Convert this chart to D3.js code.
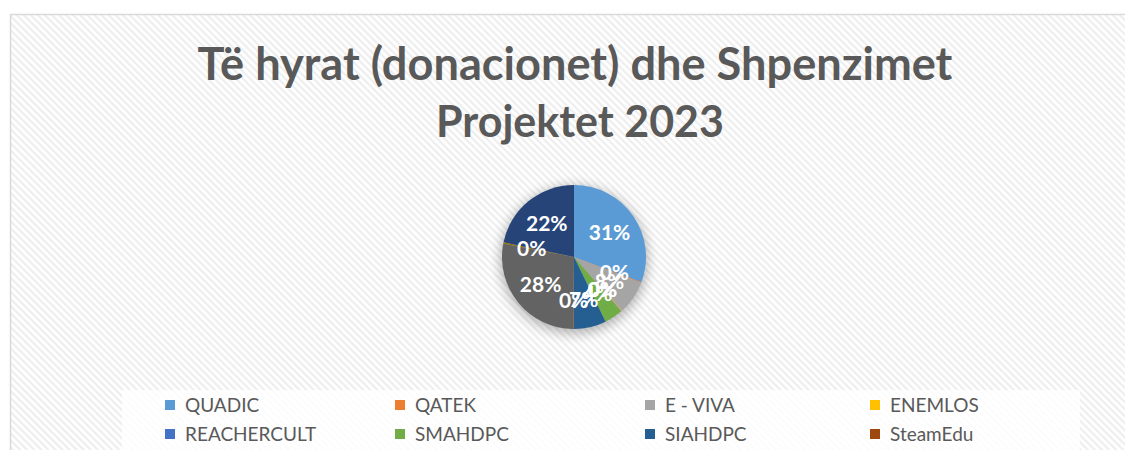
<!DOCTYPE html>
<html><head><meta charset="utf-8">
<script src="https://cdn.jsdelivr.net/npm/d3@7"></script>
<style>html,body{margin:0;padding:0;background:#fff;overflow:hidden}</style>
</head><body>
<svg id="chart" width="1125" height="450"></svg>
<script>
const categories = ["QUADIC","QATEK","E - VIVA","ENEMLOS","REACHERCULT","SMAHDPC","SIAHDPC","SteamEdu","Kategoria 9","Kategoria 10","Kategoria 11"];
const values = [31, 0.15, 7.6, 0.15, 0.15, 4.1, 7.3, 0.15, 28.1, 0.3, 21.9];
const labels = ["31%","0%","8%","0%","0%","4%","7%","0%","28%","0%","22%"];
const colors = ["#5B9BD5","#ED7D31","#A5A5A5","#FFC000","#4472C4","#70AD47","#255E91","#9E480E","#636363","#997300","#264478"];
const titleLines = ["Të hyrat (donacionet) dhe Shpenzimet","Projektet 2023"];

const svg = d3.select("#chart");
const W = 1125, H = 450;
const FONT = "Lato, 'Open Sans', sans-serif";

const defs = svg.append("defs");
const pat = defs.append("pattern").attr("id","stripes").attr("patternUnits","userSpaceOnUse")
  .attr("width",5).attr("height",5).attr("patternTransform","rotate(-45)");
pat.append("rect").attr("width",5).attr("height",5).attr("fill","#ffffff");
pat.append("rect").attr("x",0).attr("y",0).attr("width",2.2).attr("height",5).attr("fill","#eeeeee");
const f = defs.append("filter").attr("id","shadow").attr("x","-30%").attr("y","-30%").attr("width","160%").attr("height","160%");
f.append("feGaussianBlur").attr("stdDeviation",6);

// chart area
svg.append("rect").attr("x",10.5).attr("y",14.5).attr("width",W+20).attr("height",H+20)
  .attr("fill","url(#stripes)").attr("stroke","#d9d9d9").attr("stroke-width",1.5);

// title
const title = svg.append("g");
const tl1 = title.append("text").attr("x",575).attr("y",80).attr("text-anchor","middle")
  .attr("font-family",FONT).attr("font-weight","bold").attr("fill","#595959").text(titleLines[0]);
const tl2 = title.append("text").attr("x",580).attr("y",137).attr("text-anchor","middle")
  .attr("font-family",FONT).attr("font-weight","bold").attr("fill","#595959").text(titleLines[1]);
function fit(sel, target, base){
  sel.attr("font-size",base);
  const w = sel.node().getComputedTextLength();
  sel.attr("font-size", base*target/w);
}
fit(tl1, 755, 40);
fit(tl2, 288, 40);

// pie
const cx = 574, cy = 257, R = 72;
const pie = d3.pie().sort(null).value(d=>d);
const arcs = pie(values);
const arc = d3.arc().innerRadius(0).outerRadius(R);
const g = svg.append("g").attr("transform",`translate(${cx},${cy})`);
g.append("circle").attr("cx",0).attr("cy",3).attr("r",R+2).attr("fill","#000").attr("opacity",0.28).attr("filter","url(#shadow)");
g.selectAll("path.slice").data(arcs).join("path").attr("class","slice")
  .attr("d",arc).attr("fill",(d,i)=>colors[i]);
const labelArc = d3.arc().innerRadius(R*0.6).outerRadius(R*0.6);
g.selectAll("text.lbl").data(arcs).join("text").attr("class","lbl")
  .attr("transform",d=>{const c=labelArc.centroid(d);return `translate(${c[0]},${c[1]})`;})
  .attr("text-anchor","middle").attr("dy","0.36em")
  .attr("font-family",FONT).attr("font-weight","bold").attr("font-size",21).attr("fill","#fff")
  .text((d,i)=>labels[i]);

// legend
svg.append("rect").attr("x",122).attr("y",390).attr("width",958).attr("height",80).attr("fill","#fff").attr("opacity",0.8);
const colX = [165,395,645,870];
const rowY = [405,434];
const leg = svg.append("g");
categories.forEach((c,i)=>{
  const r = Math.floor(i/4), col = i%4;
  if (r >= rowY.length) return;
  const x = colX[col], y = rowY[r];
  leg.append("rect").attr("x",x).attr("y",y-5).attr("width",10).attr("height",10).attr("fill",colors[i]);
  leg.append("text").attr("x",x+20).attr("y",y).attr("dy","0.36em")
    .attr("font-family",FONT).attr("font-size",19).attr("fill","#595959").text(c);
});
</script>
</body></html>
